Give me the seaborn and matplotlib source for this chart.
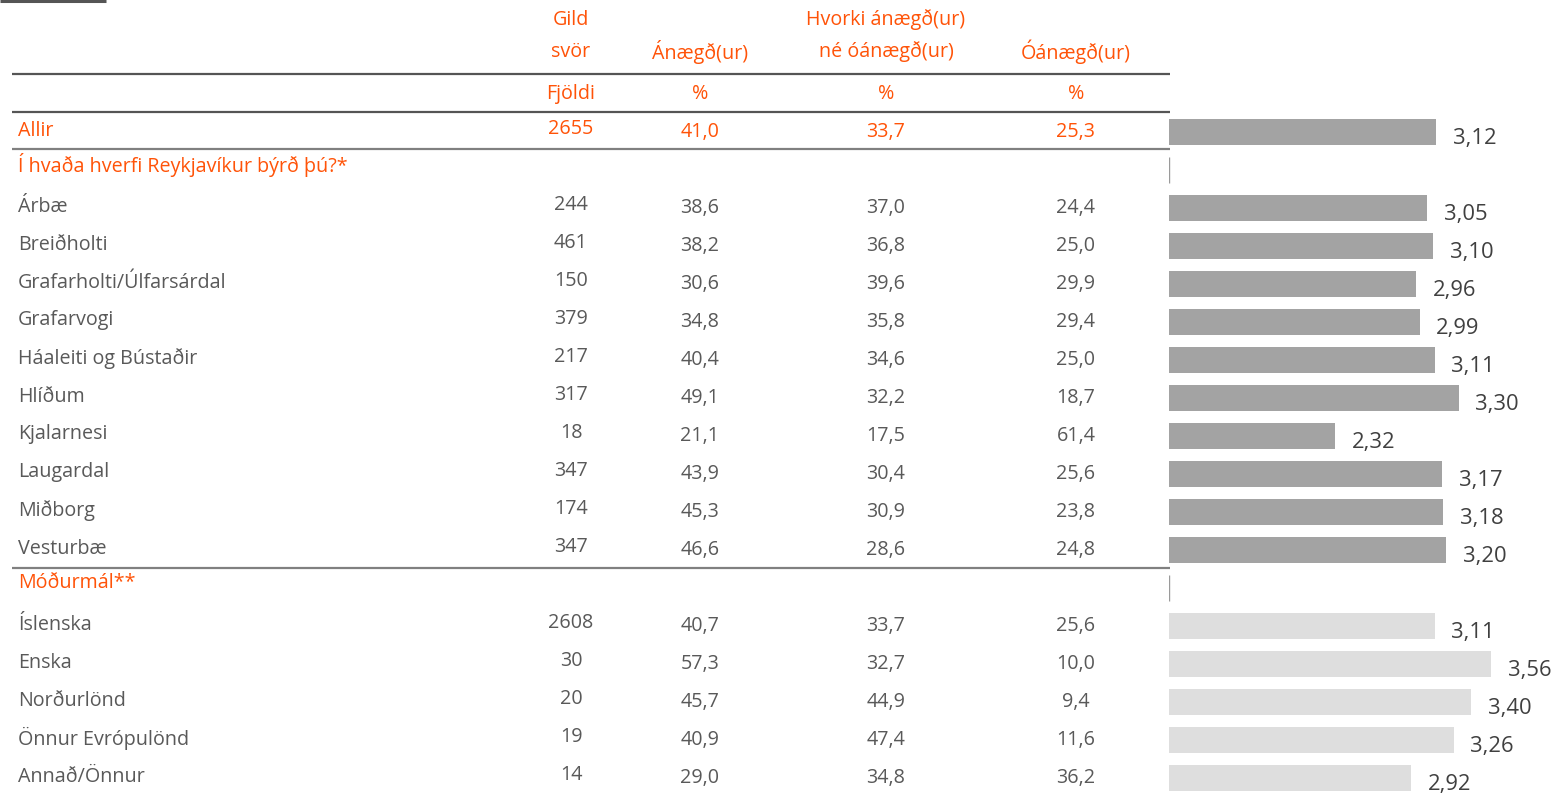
import numpy as np
import pandas as pd
import matplotlib
matplotlib.use("Agg")
import matplotlib.pyplot as plt
import seaborn as sns

# ---------------- data ----------------
col_headers = [["Gild", "svör"], ["Ánægð(ur)"], ["Hvorki ánægð(ur)", "né óánægð(ur)"], ["Óánægð(ur)"]]
unit_headers = ["Fjöldi", "%", "%", "%"]

all_label = "Allir"
all_n = 2655
all_sat, all_neu, all_dis = 41.0, 33.7, 25.3
all_mean = 3.12

district_title = "Í hvaða hverfi Reykjavíkur býrð þú?*"
district_labels = ["Árbæ", "Breiðholti", "Grafarholti/Úlfarsárdal", "Grafarvogi",
                   "Háaleiti og Bústaðir", "Hlíðum", "Kjalarnesi", "Laugardal",
                   "Miðborg", "Vesturbæ"]
district_n = [244, 461, 150, 379, 217, 317, 18, 347, 174, 347]
district_sat = [38.6, 38.2, 30.6, 34.8, 40.4, 49.1, 21.1, 43.9, 45.3, 46.6]
district_neu = [37.0, 36.8, 39.6, 35.8, 34.6, 32.2, 17.5, 30.4, 30.9, 28.6]
district_dis = [24.4, 25.0, 29.9, 29.4, 25.0, 18.7, 61.4, 25.6, 23.8, 24.8]
district_mean = [3.05, 3.10, 2.96, 2.99, 3.11, 3.30, 2.32, 3.17, 3.18, 3.20]

lang_title = "Móðurmál**"
lang_labels = ["Íslenska", "Enska", "Norðurlönd", "Önnur Evrópulönd", "Annað/Önnur"]
lang_n = [2608, 30, 20, 19, 14]
lang_sat = [40.7, 57.3, 45.7, 40.9, 29.0]
lang_neu = [33.7, 32.7, 44.9, 47.4, 34.8]
lang_dis = [25.6, 10.0, 9.4, 11.6, 36.2]
lang_mean = [3.11, 3.56, 3.40, 3.26, 2.92]

# ---------------- build rows ----------------
rows = []  # (kind, label, n, sat, neu, dis, mean, group)
rows.append(("total", all_label, all_n, all_sat, all_neu, all_dis, all_mean, "dark"))
rows.append(("title", district_title, None, None, None, None, None, None))
for i in range(len(district_labels)):
    rows.append(("data", district_labels[i], district_n[i], district_sat[i],
                 district_neu[i], district_dis[i], district_mean[i], "dark"))
rows.append(("title", lang_title, None, None, None, None, None, None))
for i in range(len(lang_labels)):
    rows.append(("data", lang_labels[i], lang_n[i], lang_sat[i],
                 lang_neu[i], lang_dis[i], lang_mean[i], "light"))

df = pd.DataFrame(rows, columns=["kind", "label", "n", "sat", "neu", "dis", "mean", "group"])
df["pos"] = np.arange(len(df))

ORANGE = "#FF5308"
TEXT = "#595959"
VAL = "#404040"
DARKBAR = "#A3A3A3"
LIGHTBAR = "#DEDEDE"

sns.set_theme(style="white")
plt.rcParams["font.family"] = ["Open Sans", "DejaVu Sans"]

W, H = 1559, 793
fig = plt.figure(figsize=(W / 100, H / 100), dpi=100)

# table axes in pixel coordinates
axt = fig.add_axes([0, 0, 1, 1])
axt.set_xlim(0, W)
axt.set_ylim(H, 0)
axt.axis("off")

FS = 14.2
FSV = 15.8
col_x = [571, 700, 886, 1076]

def row_y(r):
    return 130.5 + 38 * r

def fmt(v):
    return f"{v:.1f}".replace(".", ",")

# headers
for cx, hdr in zip(col_x, col_headers):
    lines = hdr
    ys = [20, 52] if len(lines) == 2 else [52]
    for t, yy in zip(lines, ys):
        axt.text(cx, yy, t, color=ORANGE, fontsize=FS, ha="center", va="center")
for cx, u in zip(col_x, unit_headers):
    axt.text(cx, 94, u, color=ORANGE, fontsize=FS, ha="center", va="center")

# lines
axt.plot([0, 106], [1, 1], color="#555555", lw=2.2, solid_capstyle="butt")
axt.plot([12, 1170], [74, 74], color="#555555", lw=1.6, solid_capstyle="butt")
axt.plot([12, 1170], [112, 112], color="#555555", lw=1.6, solid_capstyle="butt")
axt.plot([12, 1170], [149, 149], color="#808080", lw=1.6, solid_capstyle="butt")
title_rows = df.index[df["kind"] == "title"].tolist()
axt.plot([12, 1170], [568, 568], color="#808080", lw=1.6, solid_capstyle="butt")

for _, r in df.iterrows():
    y = row_y(r["pos"])
    if r["kind"] == "title":
        axt.text(18, y - 3.5, r["label"], color=ORANGE, fontsize=FS, ha="left", va="center")
        continue
    c = ORANGE if r["kind"] == "total" else TEXT
    axt.text(18, y, r["label"], color=c, fontsize=FS, ha="left", va="center")
    axt.text(col_x[0], y - 1, f"{int(r['n'])}", color=c, fontsize=FS, ha="center", va="center")
    for cx, key in zip(col_x[1:], ["sat", "neu", "dis"]):
        axt.text(cx, y + 1.5, fmt(r[key]), color=c, fontsize=FS, ha="center", va="center")

# bar axes
x0_px = 1169
ppu = 125.9
ax_w_px = W - x0_px
top_px = 132 - 19
axb = fig.add_axes([x0_px / W, 0, ax_w_px / W, (H - top_px) / H])
axb.patch.set_alpha(0)

bars = df[df["kind"] != "title"]
sns.barplot(data=bars, x="mean", y="pos", hue="group", orient="h", native_scale=True,
            dodge=False, width=0.68, palette={"dark": DARKBAR, "light": LIGHTBAR},
            legend=False, ax=axb, edgecolor="none", linewidth=0)
axb.set_xlim(1, 1 + ax_w_px / ppu)
axb.set_ylim((H - 132) / 38, -0.5)
axb.axis("off")

for _, r in bars.iterrows():
    axb.annotate(f"{r['mean']:.2f}".replace(".", ","), (r["mean"], r["pos"]),
                 xytext=(12.0, -4.5), textcoords="offset points",
                 ha="left", va="center", fontsize=FSV, color=VAL)

for tr in title_rows:
    axb.vlines(1.0, tr - 0.34, tr + 0.34, color="#9a9a9a", lw=1)

fig.savefig("out.png", dpi=100)
